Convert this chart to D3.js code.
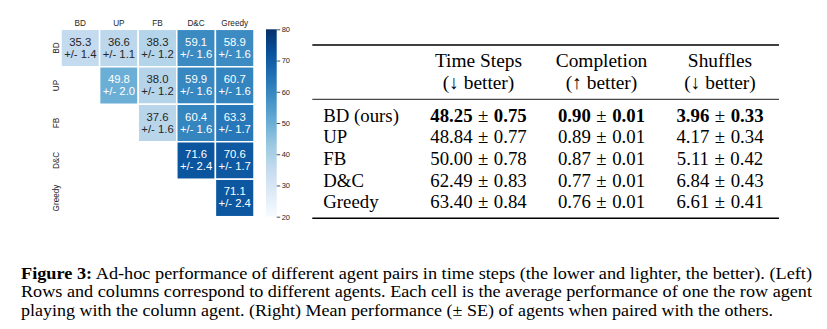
<!DOCTYPE html>
<html>
<head>
<meta charset="utf-8">
<script src="https://cdn.jsdelivr.net/npm/d3@7"></script>
<style>
  body { margin: 0; background: #fff; }
  svg { display: block; }
</style>
</head>
<body>
<svg id="chart" width="827" height="329"></svg>
<script>
// heatmap data (upper triangle, row agent vs column agent)
const agents = ["BD", "UP", "FB", "D&C", "Greedy"];
const pairMeans = [
  [35.3, 36.6, 38.3, 59.1, 58.9],
  [null, 49.8, 38.0, 59.9, 60.7],
  [null, null, 37.6, 60.4, 63.3],
  [null, null, null, 71.6, 70.6],
  [null, null, null, null, 71.1]
];
const pairErrs = [
  [1.4, 1.1, 1.2, 1.6, 1.6],
  [null, 2.0, 1.2, 1.6, 1.6],
  [null, null, 1.6, 1.6, 1.7],
  [null, null, null, 2.4, 1.7],
  [null, null, null, null, 2.4]
];
const colorTicks = [20, 30, 40, 50, 60, 70, 80];

// table data
const methods = ["BD (ours)", "UP", "FB", "D&C", "Greedy"];
const headers = [["Time Steps", "(\u2193 better)"], ["Completion", "(\u2191 better)"], ["Shuffles", "(\u2193 better)"]];
const timeSteps = [[48.25, 0.75], [48.84, 0.77], [50.00, 0.78], [62.49, 0.83], [63.40, 0.84]];
const completion = [[0.90, 0.01], [0.89, 0.01], [0.87, 0.01], [0.77, 0.01], [0.76, 0.01]];
const shuffles = [[3.96, 0.33], [4.17, 0.34], [5.11, 0.42], [6.84, 0.43], [6.61, 0.41]];

const captionLines = [
  [["Figure 3:", true], [" Ad-hoc performance of different agent pairs in time steps (the lower and lighter, the better). (Left)", false]],
  [["Rows and columns correspond to different agents. Each cell is the average performance of one the row agent", false]],
  [["playing with the column agent. (Right) Mean performance (\u00b1 SE) of agents when paired with the others.", false]]
];

const svg = d3.select("#chart");
const sans = "'Liberation Sans', Arial, sans-serif";
const serif = "'Liberation Serif', 'Times New Roman', serif";
const ink = "#262626";

// ---------- heatmap ----------
const x = d3.scaleBand().domain(agents).range([61, 254]);
const y = d3.scaleBand().domain(agents).range([29.3, 216.7]);
const color = d3.scaleLinear()
  .domain(d3.range(9).map(i => 20 + i * 60 / 8))
  .range(d3.schemeBlues[9])
  .clamp(true);

const cells = [];
pairMeans.forEach((row, i) => row.forEach((v, j) => {
  if (v !== null) cells.push({ r: agents[i], c: agents[j], v, e: pairErrs[i][j] });
}));

const hm = svg.append("g");
hm.selectAll("rect")
  .data(cells)
  .join("rect")
  .attr("x", d => x(d.c))
  .attr("y", d => y(d.r))
  .attr("width", x.bandwidth())
  .attr("height", y.bandwidth())
  .attr("fill", d => color(d.v))
  .attr("stroke", "#fff")
  .attr("stroke-width", 1.5);

// seaborn-ish text colour pick by luminance
const lum = c => {
  const rgb = d3.rgb(c);
  const f = v => { v /= 255; return v <= 0.03928 ? v / 12.92 : Math.pow((v + 0.055) / 1.055, 2.4); };
  return 0.2126 * f(rgb.r) + 0.7152 * f(rgb.g) + 0.0722 * f(rgb.b);
};

const labels = hm.selectAll("g.lab")
  .data(cells)
  .join("g")
  .attr("class", "lab")
  .attr("transform", d => `translate(${x(d.c) + x.bandwidth() / 2},${y(d.r) + y.bandwidth() / 2})`)
  .style("font-family", sans)
  .style("font-size", "11.3px")
  .attr("text-anchor", "middle")
  .attr("fill", d => lum(color(d.v)) > 0.408 ? ink : "#fff");
labels.append("text").attr("y", -2.5).text(d => d.v.toFixed(1));
labels.append("text").attr("y", 9.5).text(d => "+/- " + d.e.toFixed(1));

// column labels
hm.selectAll("text.col")
  .data(agents)
  .join("text")
  .attr("class", "col")
  .attr("x", d => x(d) + x.bandwidth() / 2)
  .attr("y", 26)
  .attr("text-anchor", "middle")
  .style("font-family", sans)
  .style("font-size", "8.2px")
  .attr("fill", ink)
  .text(d => d);

// row labels
hm.selectAll("text.row")
  .data(agents)
  .join("text")
  .attr("class", "row")
  .attr("transform", d => `translate(59,${y(d) + y.bandwidth() / 2}) rotate(-90)`)
  .attr("text-anchor", "middle")
  .style("font-family", sans)
  .style("font-size", "8.2px")
  .attr("fill", ink)
  .text(d => d);

// colorbar
const cb = d3.scaleLinear().domain([20, 80]).range([216.7, 29.3]);
const grad = svg.append("defs").append("linearGradient")
  .attr("id", "blues").attr("x1", 0).attr("y1", 1).attr("x2", 0).attr("y2", 0);
grad.selectAll("stop")
  .data(d3.schemeBlues[9])
  .join("stop")
  .attr("offset", (d, i) => i / 8)
  .attr("stop-color", d => d);
svg.append("rect")
  .attr("x", 266).attr("y", cb(80))
  .attr("width", 10.7).attr("height", cb(20) - cb(80))
  .attr("fill", "url(#blues)");

const cbAxis = svg.append("g")
  .attr("transform", "translate(276.7,0)")
  .call(d3.axisRight(cb).tickValues(colorTicks).tickSize(3.5).tickPadding(1.5));
cbAxis.select(".domain").remove();
cbAxis.selectAll("line").attr("stroke", ink).attr("stroke-width", 0.8);
cbAxis.selectAll("text")
  .attr("fill", ink)
  .style("font-family", sans)
  .style("font-size", "7.5px");

// ---------- table ----------
const tbl = svg.append("g").style("font-family", serif).attr("fill", "#000");
const colX = [478.5, 601.5, 720];
const cols = [timeSteps, completion, shuffles];
const fmt = d3.format(".2f");
const rowY = d3.scalePoint().domain(methods).range([121.7, 208.3]);
const fs = "19.4px";
const rowFs = "18.8px";

[[45, 1.6], [99.3, 0.9], [218.3, 1.6]].forEach(([ly, w]) => {
  tbl.append("line")
    .attr("x1", 312.3).attr("x2", 779)
    .attr("y1", ly).attr("y2", ly)
    .attr("stroke", "#000").attr("stroke-width", w);
});

headers.forEach((h, k) => {
  tbl.append("text").attr("x", colX[k]).attr("y", 67.3)
    .attr("text-anchor", "middle").style("font-size", fs).text(h[0]);
  tbl.append("text").attr("x", colX[k]).attr("y", 89.3)
    .attr("text-anchor", "middle").style("font-size", fs).text(h[1]);
});

methods.forEach((m, i) => {
  const bold = i === 0 ? "bold" : "normal";
  tbl.append("text").attr("x", 323.3).attr("y", rowY(m))
    .style("font-size", rowFs).text(m);
  cols.forEach((col, k) => {
    const [v, e] = col[i];
    const t = tbl.append("text").attr("x", colX[k]).attr("y", rowY(m))
      .attr("text-anchor", "middle").style("font-size", rowFs);
    t.append("tspan").style("font-weight", bold).text(fmt(v));
    t.append("tspan").attr("dx", 5.5).text("\u00b1");
    t.append("tspan").attr("dx", 5.5).style("font-weight", bold).text(fmt(e));
  });
});

// ---------- caption ----------
const capY = [278.5, 297, 315.5];
const capLen = [791, 791, 752];
captionLines.forEach((parts, i) => {
  const t = svg.append("text")
    .attr("x", 21).attr("y", capY[i])
    .style("font-family", serif)
    .style("font-size", "16.2px")
    .attr("fill", "#000")
    .attr("textLength", capLen[i])
    .attr("lengthAdjust", "spacingAndGlyphs");
  parts.forEach(([s, b]) => t.append("tspan").style("font-weight", b ? "bold" : "normal").text(s));
});
</script>
</body>
</html>
